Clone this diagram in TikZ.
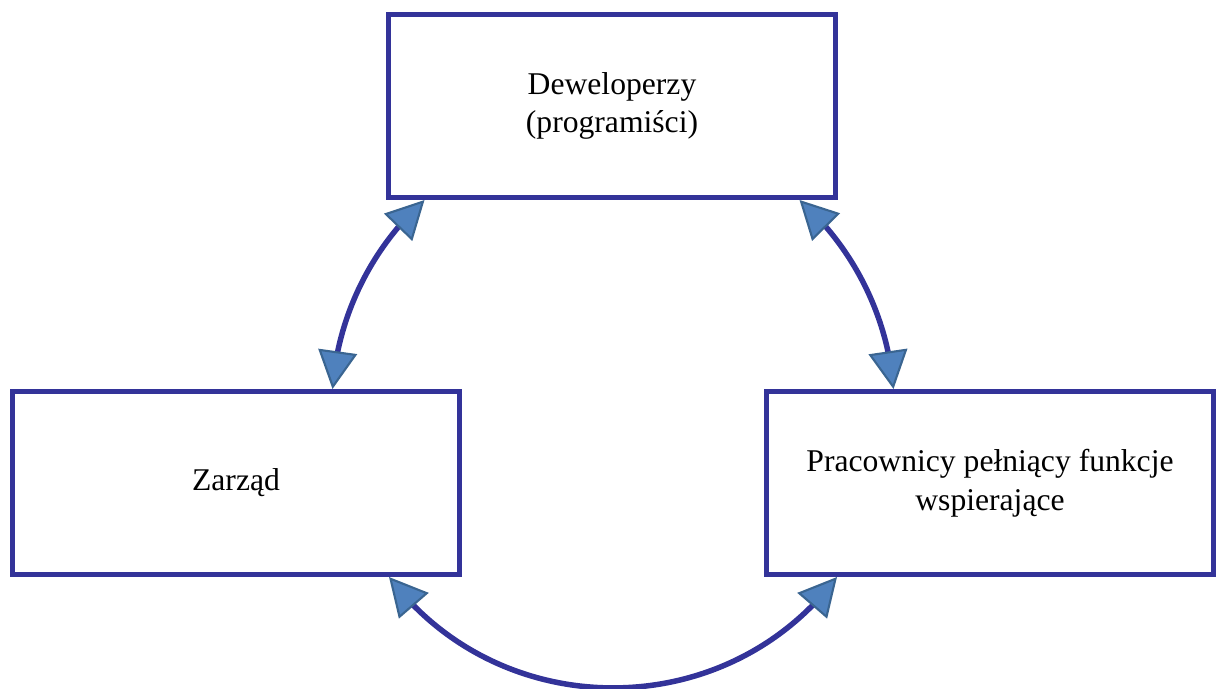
\documentclass[tikz,border=0pt]{standalone}
\usepackage{fontspec}
\setmainfont{Liberation Serif}
\usetikzlibrary{arrows.meta, bending}
\definecolor{boxNavy}{HTML}{333399}
\definecolor{tipFill}{HTML}{4F81BD}
\definecolor{tipEdge}{HTML}{3A6591}

\begin{document}
\begin{tikzpicture}[font=\fontsize{18}{22}\selectfont,
  unit/.style={draw=boxNavy, line width=0.1cm, fill=white, align=center,
               minimum width=8.94cm, minimum height=3.66cm, inner sep=0pt},
  link/.style={draw=boxNavy, line width=0.11cm,
               >={Triangle[length=0.76cm, width=0.78cm, fill=tipFill, color=tipEdge, line width=1.2pt]}, <->}]
  \useasboundingbox (0,0) rectangle (24.42,13.76);
  \node[unit] (dev) at (12.24,11.64) {Deweloperzy\\(programiści)};
  \node[unit] (mgmt) at (4.72,4.1) {Zarząd};
  \node[unit] (sup) at (19.8,4.1) {Pracownicy pełniący funkcje\\wspierające};
  % three arcs of one ring round the middle
  \draw[link] ([xshift=0.77cm]dev.south west) to[bend right=22, looseness=0.88] ([xshift=-2.59cm]mgmt.north east);
  \draw[link] ([xshift=2.59cm]sup.north west) to[bend right=22, looseness=0.88] ([xshift=-0.77cm]dev.south east);
  \draw[link] ([xshift=-1.46cm]mgmt.south east) to[bend right=53, looseness=1.06] ([xshift=1.46cm]sup.south west);
\end{tikzpicture}
\end{document}
